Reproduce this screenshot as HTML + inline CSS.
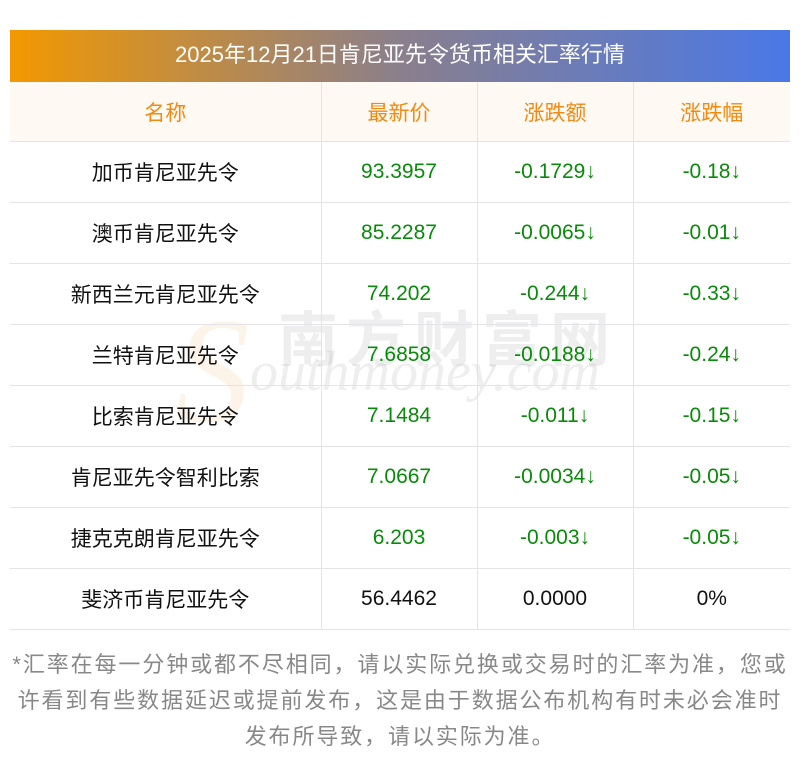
<!DOCTYPE html>
<html><head><meta charset="utf-8"><style>
body{margin:0;width:800px;height:769px;background:#fff;font-family:"Liberation Sans","Noto Sans CJK SC",sans-serif;position:relative;overflow:hidden}
.title{position:absolute;left:10px;top:30px;width:780px;height:52px;background:linear-gradient(90deg,#f39800,#8a7f8c 50%,#4a78e8);color:#fff;font-size:22px;line-height:50px;text-align:center}
table{position:absolute;left:10px;top:82px;width:780px;border-collapse:collapse;table-layout:fixed}
td{height:60px;border:1px solid #e3e3e8;text-align:center;font-size:21px;padding:0;color:#111}
tr:first-child td{border-top:none;background:#fef9f2;color:#f08a12;height:59px}
td:first-child{border-left:none}td:last-child{border-right:none}
.g{color:#0a8a0a}
.foot{position:absolute;left:0;top:647px;width:800px;text-align:center;color:#888;font-size:22px;letter-spacing:1.9px;line-height:36px;white-space:nowrap}
.wm1{position:absolute;left:278px;top:292px;font-size:60px;color:rgba(150,150,150,0.16);letter-spacing:8px;font-weight:bold}
.wm2{position:absolute;left:250px;top:340px;font-size:56px;font-style:italic;font-family:"Liberation Serif",serif;color:rgba(150,150,150,0.16)}
.wmS{position:absolute;left:175px;top:285px;font-size:150px;font-style:italic;font-family:"Liberation Serif",serif;color:rgba(240,150,40,0.10)}
</style></head><body>
<div class="title">2025年12月21日肯尼亚先令货币相关汇率行情</div>
<div class="wmS">S</div>
<div class="wm1">南方财富网</div>
<div class="wm2">outhmoney.com</div>
<table>
<colgroup><col style="width:311px"><col style="width:156px"><col style="width:156px"><col style="width:157px"></colgroup>
<tr><td>名称</td><td>最新价</td><td>涨跌额</td><td>涨跌幅</td></tr>
<tr><td>加币肯尼亚先令</td><td class="g">93.3957</td><td class="g">-0.1729↓</td><td class="g">-0.18↓</td></tr>
<tr><td>澳币肯尼亚先令</td><td class="g">85.2287</td><td class="g">-0.0065↓</td><td class="g">-0.01↓</td></tr>
<tr><td>新西兰元肯尼亚先令</td><td class="g">74.202</td><td class="g">-0.244↓</td><td class="g">-0.33↓</td></tr>
<tr><td>兰特肯尼亚先令</td><td class="g">7.6858</td><td class="g">-0.0188↓</td><td class="g">-0.24↓</td></tr>
<tr><td>比索肯尼亚先令</td><td class="g">7.1484</td><td class="g">-0.011↓</td><td class="g">-0.15↓</td></tr>
<tr><td>肯尼亚先令智利比索</td><td class="g">7.0667</td><td class="g">-0.0034↓</td><td class="g">-0.05↓</td></tr>
<tr><td>捷克克朗肯尼亚先令</td><td class="g">6.203</td><td class="g">-0.003↓</td><td class="g">-0.05↓</td></tr>
<tr><td>斐济币肯尼亚先令</td><td>56.4462</td><td>0.0000</td><td>0%</td></tr>
</table>
<div class="foot">*汇率在每一分钟或都不尽相同，请以实际兑换或交易时的汇率为准，您或<br>许看到有些数据延迟或提前发布，这是由于数据公布机构有时未必会准时<br>发布所导致，请以实际为准。</div>
</body></html>
